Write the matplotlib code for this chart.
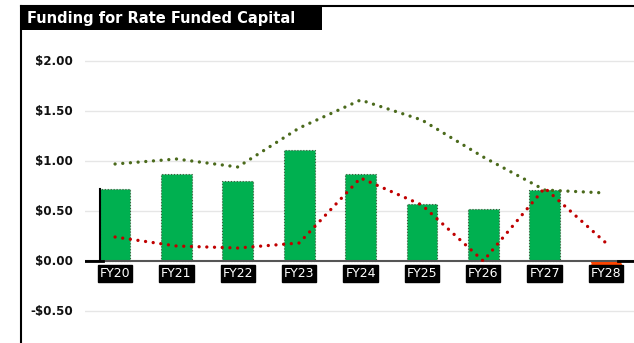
import matplotlib
matplotlib.use("Agg")
import matplotlib.pyplot as plt
from matplotlib.lines import Line2D
from matplotlib.patches import Rectangle

years = ["FY20", "FY21", "FY22", "FY23", "FY24", "FY25", "FY26", "FY27", "FY28"]
bar_values = [0.72, 0.87, 0.80, 1.11, 0.87, 0.57, 0.52, 0.71, -0.06]
green_line = [0.97, 1.02, 0.94, 1.33, 1.61, 1.41, 1.04, 0.71, 0.68]
red_line = [0.24, 0.15, 0.13, 0.18, 0.83, 0.56, 0.00, 0.73, 0.18]
y_ticks = [2.0, 1.5, 1.0, 0.5, 0.0, -0.5]
y_labels = ["$2.00", "$1.50", "$1.00", "$0.50", "$0.00", "-$0.50"]

W, H = 634, 343
fig = plt.figure(figsize=(W / 100, H / 100), dpi=100)

# axes placed in pixel terms: left at x=85, top at y=35
ax = fig.add_axes([85 / W, 0, (W - 85) / W, (H - 35) / H])
ax.set_xlim(-0.49, 8.456)
ax.set_ylim(-0.82, 2.26)
for s in ax.spines.values():
    s.set_visible(False)
ax.set_xticks([])
ax.set_yticks([])

for t in y_ticks:
    if t != 0:
        ax.axhline(t, color="#e6e6e6", lw=1, zorder=0)

x = list(range(len(years)))
colors = ["#00b050"] * 8 + ["#ff4500"]
edges = ["#3d5a3d"] * 8 + ["#ff4500"]
bars = ax.bar(x, bar_values, width=0.5, color=colors, edgecolor=edges,
              linewidth=0.8, linestyle=":", zorder=2)
bars[-1].set_width(0.5)

ax.axhline(0, color="#555555", lw=1.5, zorder=3)
ax.plot([-0.49, -0.2], [0, 0], color="black", lw=2, zorder=3)
ax.plot([8.2, 8.456], [0, 0], color="black", lw=2, zorder=3)
ax.plot([-0.25, -0.25], [0, bar_values[0]], color="black", lw=1.5, zorder=3)

dots = (0, (0.01, 2.3))
ax.plot(x, green_line, color="#4b6a1c", lw=2.4, linestyle=dots,
        dash_capstyle="round", zorder=4)
ax.plot(x, red_line, color="#c00000", lw=2.4, linestyle=dots,
        dash_capstyle="round", zorder=4)

for xi, lab in zip(x, years):
    ax.text(xi, -0.125, lab, ha="center", va="center", color="white",
            fontsize=9, family="DejaVu Sans",
            bbox=dict(boxstyle="square,pad=0.15", fc="black", ec="black"))

for t, lab in zip(y_ticks, y_labels):
    fig.text(73 / W, 1 - (261 - t * 100) / H, lab, ha="right", va="center",
             fontsize=8.6, fontweight="bold", color="#111111")

# outer frame and title box
fig.add_artist(Line2D([21 / W, 21 / W], [0, 1 - 6 / H], color="black", lw=1.5))
fig.add_artist(Line2D([21 / W, 1], [1 - 6 / H, 1 - 6 / H], color="black", lw=1.5))
fig.add_artist(Rectangle((21 / W, 1 - 30 / H), (322 - 21) / W, 24 / H,
                         facecolor="black", edgecolor="none"))
fig.text(27 / W, 1 - 18 / H, "Funding for Rate Funded Capital", ha="left",
         va="center", color="white", fontsize=10.5, fontweight="bold")

fig.savefig("out.png", dpi=100)
